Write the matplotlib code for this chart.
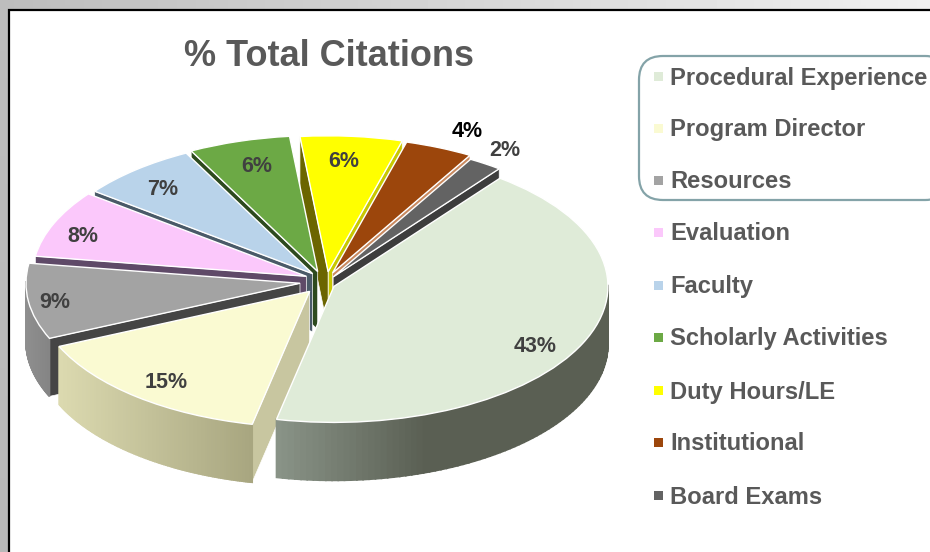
import numpy as np
import matplotlib
matplotlib.use('Agg')
import matplotlib.pyplot as plt
from matplotlib.colors import to_rgb
from matplotlib.patches import Polygon, Rectangle, FancyBboxPatch

plt.rcParams['font.family'] = ['Liberation Sans', 'DejaVu Sans']

categories = ['Procedural Experience', 'Program Director', 'Resources', 'Evaluation', 'Faculty',
              'Scholarly Activities', 'Duty Hours/LE', 'Institutional', 'Board Exams']
percent = [43, 15, 9, 8, 7, 6, 6, 4, 2]
title = '% Total Citations'

# slice styling
top_colors = ['#dfebd8', '#fafad2', '#a3a3a3', '#fbc8fb', '#b9d3ea', '#6ca945', '#ffff00', '#9c460c', '#636363']
edge_a = ['#5c6156', '#c8c6a0', '#404040', '#5f4a68', '#4a5a68', '#2d4a1e', '#c8c800', '#c98a60', '#3d3d3d']
edge_b = ['#5c6156', '#c8c6a0', '#454545', '#5f4a68', '#4a5a68', '#2d4a1e', '#6b6500', '#8a4a20', '#3d3d3d']
arc_from = ['#8a9488', '#dcdab0', '#8f8f8f', '#5f4a68', '#4a5a68', '#2d4a1e', '#6b6500', '#6e3208', '#3d3d3d']
arc_to = ['#5a5f53', '#a8a680', '#858585', '#5f4a68', '#4a5a68', '#2d4a1e', '#6b6500', '#6e3208', '#3d3d3d']
arc_stop = [0.45, 1, 1, 1, 1, 1, 1, 1, 1]
explode = [0.06, 0.06, 0.07, 0.07, 0.07, 0.08, 0.09, 0.08, 0.08]
draw_order = [6, 5, 7, 4, 8, 3, 2, 1, 0]

# small per-slice shifts in pixels, on top of the explode
nudge_x = [1, 2, 1, 6, 7, 6, 8, 6, 3]
nudge_y = [-2, 0, -3, -5, -4, -3, -1, -2, 1]

# pie geometry in pixels
W, H = 930, 552
cx_px, cy_px = 318, 285
rx, ry = 274, 136
depth = 58 / ry

label_x = [535, 166, 55, 83, 163, 257, 344, 467, 505]
label_y = [346, 382, 303, 237, 189, 166, 161, 131, 150]
label_colors = ['#404040'] * 7 + ['#000000', '#404040']
legend_y = [78, 130, 182, 234, 287, 339, 392, 444, 497]

fig = plt.figure(figsize=(W / 100, H / 100), dpi=100)

# grey slide background and the black frame
bg = fig.add_axes([0, 0, 1, 1], zorder=0)
bg.axis('off')
gx, gy = np.meshgrid(np.linspace(0, 1, 200), np.linspace(0, 1, 120))
bg.imshow(0.74 + 0.2 * gx - 0.02 * gy, cmap='gray', vmin=0, vmax=1, extent=[0, W, H, 0], aspect='auto')
bg.set_xlim(0, W)
bg.set_ylim(H, 0)
bg.add_patch(Rectangle((8.5, 9.5), W + 20, H + 20, facecolor='white', edgecolor='black', linewidth=1.6))

# rounded box round the first three legend rows
bg.add_patch(FancyBboxPatch((639, 56), 310, 144, boxstyle='round,pad=0,rounding_size=24',
                            facecolor='white', edgecolor='#84a3a8', linewidth=1.6))

ax = fig.add_axes([0, 0, 1, 1], zorder=1)
ax.patch.set_alpha(0)
wedges, _ = ax.pie(percent, colors=top_colors, explode=explode, startangle=52.7, counterclock=False,
                   wedgeprops={'edgecolor': 'white', 'linewidth': 1.0})
ax.set_aspect('auto')
ax.set_xlim(-cx_px / rx, (W - cx_px) / rx)
ax.set_ylim((cy_px - H) / ry, cy_px / ry)

for k, i in enumerate(draw_order):
    w = wedges[i]
    x0 = w.center[0] + nudge_x[i] / rx
    y0 = w.center[1] - nudge_y[i] / ry
    w.set_center((x0, y0))
    base = 3 * k + 1
    # the two cut faces of the slice, only where they look towards the viewer
    for theta, col, seen in ((w.theta1, edge_a[i], np.cos(np.radians(w.theta1)) > 0),
                             (w.theta2, edge_b[i], np.cos(np.radians(w.theta2)) < 0)):
        if not seen:
            continue
        px = x0 + np.cos(np.radians(theta))
        py = y0 + np.sin(np.radians(theta))
        ax.add_patch(Polygon([(x0, y0), (px, py), (px, py - depth), (x0, y0 - depth)],
                             facecolor=col, edgecolor='white', linewidth=0.5, zorder=base))
    # front rim, shaded in thin strips
    ts = np.radians(np.linspace(w.theta1, w.theta2, 120))
    xs = x0 + np.cos(ts)
    ys = y0 + np.sin(ts)
    front = np.sin(ts) < 0.02
    if front.sum() > 1:
        xl, xr = xs[front].min(), xs[front].max()
        c0, c1 = np.array(to_rgb(arc_from[i])), np.array(to_rgb(arc_to[i]))
        for j in range(len(ts) - 1):
            if front[j] and front[j + 1]:
                f = min(1, (0.5 * (xs[j] + xs[j + 1]) - xl) / (arc_stop[i] * (xr - xl)))
                col = c0 + (c1 - c0) * f
                ax.add_patch(Polygon([(xs[j], ys[j]), (xs[j + 1], ys[j + 1]),
                                      (xs[j + 1], ys[j + 1] - depth), (xs[j], ys[j] - depth)],
                                     facecolor=col, edgecolor=col, linewidth=1.2, zorder=base + 1))
    w.set_zorder(base + 2)

fig.text(329 / W, 1 - 56 / H, title, ha='center', va='center', fontsize=26, fontweight='bold', color='#595959')

for i, p in enumerate(percent):
    fig.text(label_x[i] / W, 1 - label_y[i] / H, str(p) + '%', ha='center', va='center',
             fontsize=15.5, fontweight='bold', color=label_colors[i])

for i, name in enumerate(categories):
    bg.add_patch(Rectangle((654, legend_y[i] - 6.5), 9, 9, facecolor=top_colors[i], edgecolor='none'))
    fig.text(670 / W, 1 - legend_y[i] / H, name, ha='left', va='center', fontsize=17.1, fontweight='bold',
             color='#595959')

fig.savefig('out.png', dpi=100)
